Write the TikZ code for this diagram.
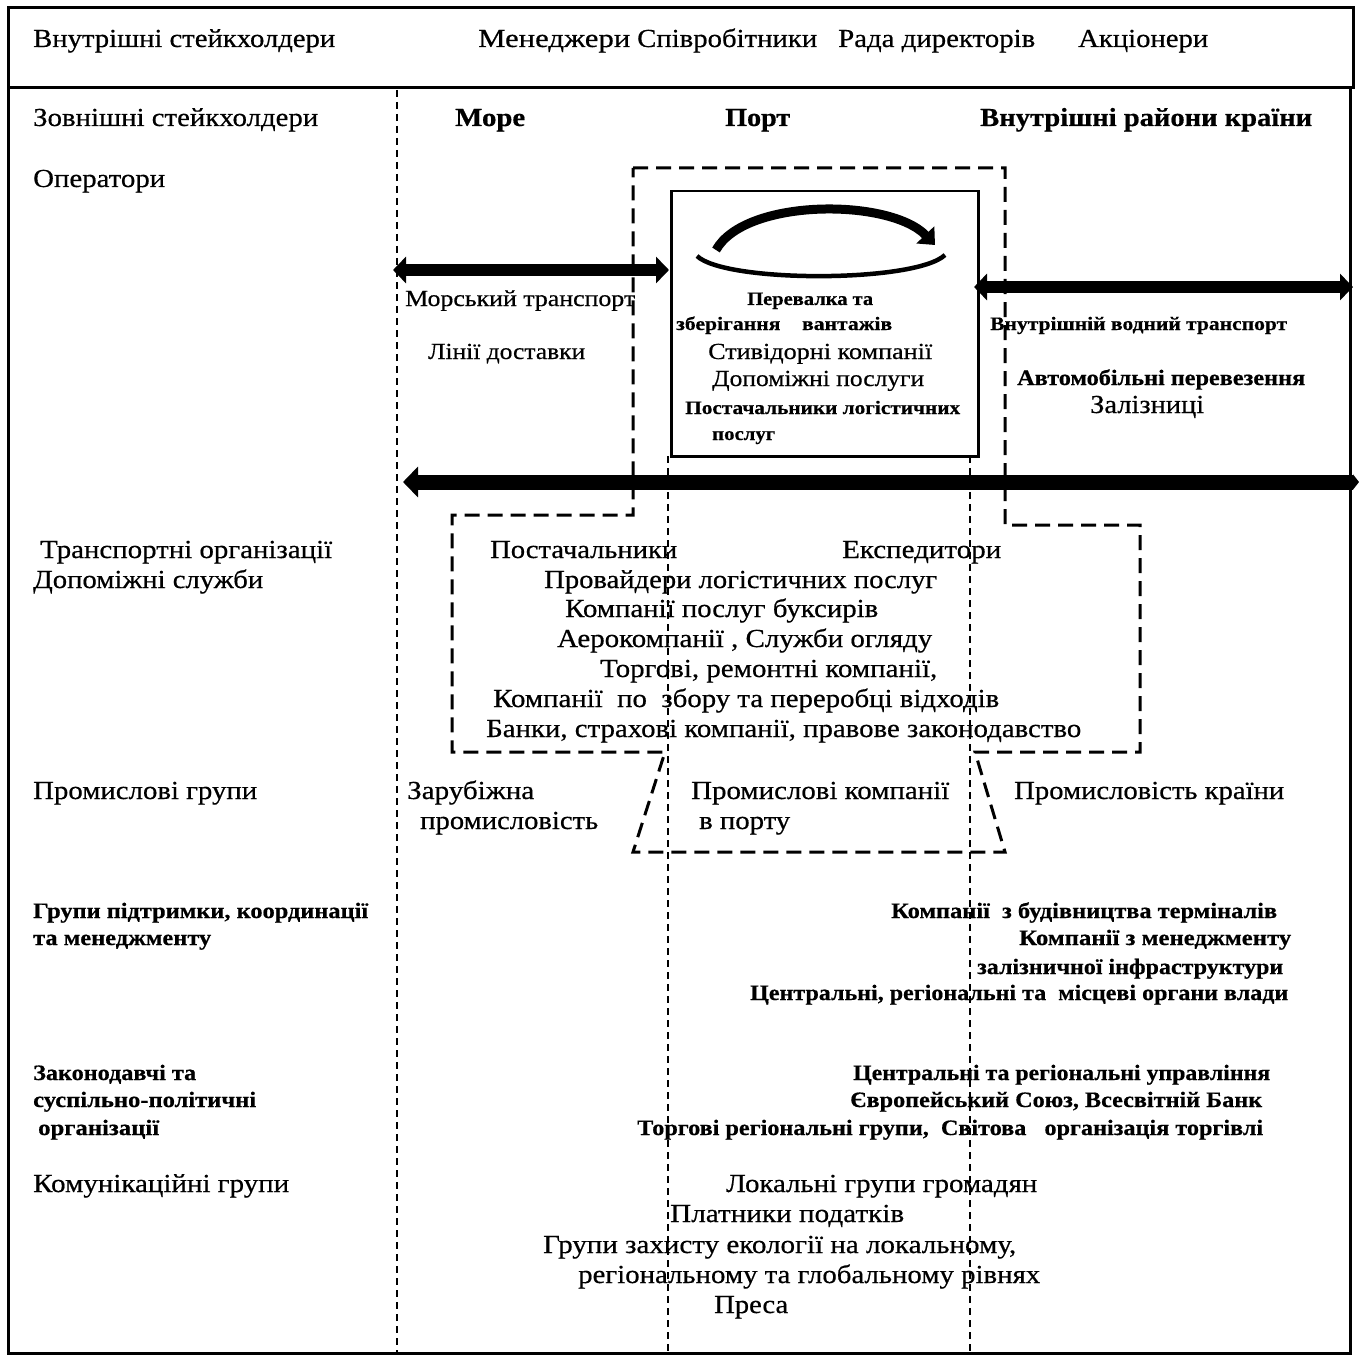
\documentclass[tikz,border=0pt]{standalone}
\usepackage{graphicx}
\usepackage{fontspec}
\setmainfont{Liberation Serif}[FakeBold=0.5]
\usetikzlibrary{arrows.meta}
\newcommand{\fw}[2]{\resizebox{#1pt}{\height}{#2}}
\newcommand{\fA}{\fontsize{26}{30}\selectfont}
\newcommand{\fAb}{\fontsize{26}{30}\selectfont\bfseries}
\newcommand{\fM}{\fontsize{23}{27}\selectfont}
\newcommand{\fMb}{\fontsize{22}{26}\selectfont\bfseries}
\newcommand{\fS}{\fontsize{19}{23}\selectfont\bfseries}
\begin{document}
\begin{tikzpicture}[x=1pt,y=-1pt,
  txt/.style={inner sep=0pt,anchor=base west},
  frame/.style={line width=3pt},
  thindash/.style={line width=1.4pt,dash pattern=on 7pt off 5pt},
  thickdash/.style={line width=3pt,dash pattern=on 15pt off 8pt},
  bigarrow/.style={line width=12pt,{Triangle[length=13pt,width=26pt]}-{Triangle[length=13pt,width=26pt]}},
  bigarrowL/.style={line width=15pt,{Triangle[length=15pt,width=30pt]}-{Triangle[length=6pt,width=15pt]}}]
\useasboundingbox (0,0) rectangle (1359,1356);
\fill[white] (0,0) rectangle (1359,1356);
% frames
\draw[frame] (8,8) rectangle (1353,88);
\draw[frame] (8,88) rectangle (1350,1353);
% thin dashed verticals
\coordinate (v1t) at (397,90); \coordinate (v1b) at (397,1352);
\coordinate (v2t) at (668,456); \coordinate (v2b) at (668,1352);
\coordinate (v3t) at (970,456); \coordinate (v3b) at (970,1352);
\draw[thindash] (v1t) -- (v1b);
\draw[thindash] (v2t) -- (v2b);
\draw[thindash] (v3t) -- (v3b);
% thick dashed outline
\draw[thickdash] (633,168) -- (1005,168) -- (1005,525) -- (1140,525) -- (1140,752) -- (975,752)
  -- (1005,852) -- (633,852) -- (665,752) -- (452,752) -- (452,515) -- (633,515) -- cycle;
% inner port box
\node[draw,line width=2.5pt,minimum width=307pt,minimum height=265pt,inner sep=0pt,anchor=north west] (portbox) at (670,190) {};
% circular arrow
\draw[line width=9pt,-{Triangle[length=14pt,width=24pt]}] (716,250) .. controls (745,198) and (890,198) .. (935,245);
\draw[line width=4.5pt] (697,256) .. controls (725,283) and (915,283) .. (945,255);
% thick arrows
\coordinate (a1l) at (393,270); \coordinate (a1r) at (669,270);
\coordinate (a2l) at (974,287); \coordinate (a2r) at (1353,287);
\coordinate (a3l) at (403,482); \coordinate (a3r) at (1359,482);
\draw[bigarrow] (a1l) -- (a1r);
\draw[bigarrow] (a2l) -- (a2r);
\draw[bigarrowL] (a3l) -- (a3r);
% top row
\node[txt] (t1) at (33,47) {\fA\fw{302}{Внутрішні стейкхолдери}};
\node[txt] (t2) at (478,47) {\fA\fw{152}{Менеджери}};
\node[txt] (t3) at (637,47) {\fA\fw{180}{Співробітники}};
\node[txt] (t4) at (838,47) {\fA\fw{197}{Рада директорів}};
\node[txt] (t5) at (1078,47) {\fA\fw{130}{Акціонери}};
% headers
\node[txt] (h0) at (33,126) {\fA\fw{285}{Зовнішні стейкхолдери}};
\node[txt] (h1) at (455,126) {\fAb\fw{70}{Море}};
\node[txt] (h2) at (725,126) {\fAb\fw{65}{Порт}};
\node[txt] (h3) at (980,126) {\fAb\fw{332}{Внутрішні райони країни}};
\node[txt] (op) at (33,187) {\fA\fw{132}{Оператори}};
% sea side
\node[txt] (s1) at (405,306) {\fM\fw{230}{Морський транспорт}};
\node[txt] (s2) at (428,359) {\fM\fw{157}{Лінії доставки}};
% port box texts
\node[txt] (p1) at (747,305) {\fS\fw{126}{Перевалка та}};
\node[txt] (p2) at (676,330) {\fS\fw{216}{зберігання\quad вантажів}};
\node[txt] (p3) at (708,359) {\fM\fw{224}{Стивідорні компанії}};
\node[txt] (p4) at (712,386) {\fM\fw{212}{Допоміжні послуги}};
\node[txt] (p5) at (685,414) {\fS\fw{275}{Постачальники логістичних}};
\node[txt] (p6) at (712,440) {\fS\fw{63}{послуг}};
% hinterland
\node[txt] (r1) at (990,330) {\fS\fw{297}{Внутрішній водний транспорт}};
\node[txt] (r2) at (1017,385) {\fMb\fw{288}{Автомобільні перевезення}};
\node[txt] (r3) at (1090,413) {\fA\fw{114}{Залізниці}};
% transport organisations
\node[txt] (l1) at (40,558) {\fA\fw{292}{Транспортні організації}};
\node[txt] (l2) at (33,588) {\fA\fw{230}{Допоміжні служби}};
\node[txt] (d1) at (490,558) {\fA\fw{187}{Постачальники}};
\node[txt] (d2) at (842,558) {\fA\fw{159}{Експедитори}};
\node[txt] (d3) at (544,588) {\fA\fw{393}{Провайдери логістичних послуг}};
\node[txt] (d4) at (565,617) {\fA\fw{313}{Компанії послуг буксирів}};
\node[txt] (d5) at (557,647) {\fA\fw{375}{Аерокомпанії , Служби огляду}};
\node[txt] (d6) at (600,677) {\fA\fw{337}{Торгові, ремонтні компанії,}};
\node[txt] (d7) at (493,707) {\fA\fw{506}{Компанії\ \ по\ \ збору та переробці відходів}};
\node[txt] (d8) at (486,737) {\fA\fw{595}{Банки, страхові компанії, правове законодавство}};
% industry
\node[txt] (i0) at (33,799) {\fA\fw{224}{Промислові групи}};
\node[txt] (i1) at (407,799) {\fA\fw{127}{Зарубіжна}};
\node[txt] (i2) at (420,829) {\fA\fw{178}{промисловість}};
\node[txt] (i3) at (691,799) {\fA\fw{258}{Промислові компанії}};
\node[txt] (i4) at (699,829) {\fA\fw{91}{в порту}};
\node[txt] (i5) at (1014,799) {\fA\fw{270}{Промисловість країни}};
% support groups
\node[txt] (g1) at (33,918) {\fMb\fw{335}{Групи підтримки, координації}};
\node[txt] (g2) at (33,945) {\fMb\fw{178}{та менеджменту}};
\node[txt] (g3) at (891,918) {\fMb\fw{386}{Компанії\ \ з будівництва терміналів}};
\node[txt] (g4) at (1019,945) {\fMb\fw{272}{Компанії з менеджменту}};
\node[txt] (g5) at (977,974) {\fMb\fw{306}{залізничної інфраструктури}};
\node[txt] (g6) at (750,1000) {\fMb\fw{538}{Центральні, регіональні та\ \ місцеві органи влади}};
% legislative
\node[txt] (z1) at (33,1080) {\fMb\fw{163}{Законодавчі та}};
\node[txt] (z2) at (33,1107) {\fMb\fw{223}{суспільно-політичні}};
\node[txt] (z3) at (38,1135) {\fMb\fw{121}{організації}};
\node[txt] (z4) at (853,1080) {\fMb\fw{417}{Центральні та регіональні управління}};
\node[txt] (z5) at (850,1107) {\fMb\fw{412}{Європейський Союз, Всесвітній Банк}};
\node[txt] (z6) at (637,1135) {\fMb\fw{626}{Торгові регіональні групи,\ \ Світова\ \ \ організація торгівлі}};
% communication
\node[txt] (c0) at (33,1192) {\fA\fw{256}{Комунікаційні групи}};
\node[txt] (c1) at (726,1192) {\fA\fw{311}{Локальні групи громадян}};
\node[txt] (c2) at (670,1222) {\fA\fw{234}{Платники податків}};
\node[txt] (c3) at (543,1253) {\fA\fw{473}{Групи захисту екології на локальному,}};
\node[txt] (c4) at (578,1283) {\fA\fw{462}{регіональному та глобальному рівнях}};
\node[txt] (c5) at (714,1313) {\fA\fw{74}{Преса}};
\end{tikzpicture}
\end{document}
